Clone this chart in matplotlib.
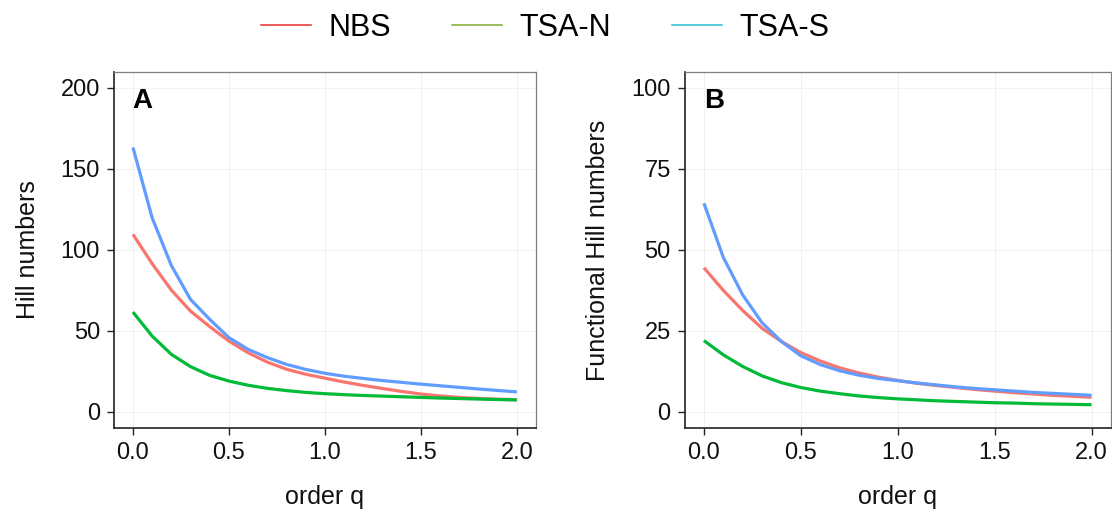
import matplotlib
matplotlib.use("Agg")
import matplotlib.pyplot as plt
from matplotlib.lines import Line2D

plt.rcParams['font.family'] = ['Liberation Sans', 'DejaVu Sans']

q = [0.0, 0.1, 0.2, 0.3, 0.4, 0.5, 0.6, 0.7, 0.8, 0.9, 1.0,
     1.1, 1.2, 1.3, 1.4, 1.5, 1.6, 1.7, 1.8, 1.9, 2.0]

series = ["NBS", "TSA-N", "TSA-S"]

# Panel A: Hill numbers
hill_nbs = [109.6, 91.5, 75.2, 62.2, 52.6, 43.7, 36.5, 30.7, 26.3, 23.2, 20.8,
            18.4, 16.3, 14.4, 12.6, 11.0, 9.8, 8.9, 8.2, 7.8, 7.5]
hill_tsan = [61.6, 46.8, 35.5, 27.9, 22.5, 19.0, 16.4, 14.5, 13.1, 12.0, 11.2,
             10.6, 10.1, 9.7, 9.3, 8.9, 8.5, 8.2, 7.9, 7.6, 7.3]
hill_tsas = [163.3, 119.8, 90.4, 69.4, 57.1, 45.8, 38.6, 33.5, 29.3, 26.2, 23.8,
             22.0, 20.6, 19.3, 18.2, 17.1, 16.1, 15.1, 14.1, 13.2, 12.3]

# Panel B: Functional Hill numbers
fhill_nbs = [44.5, 37.5, 31.3, 25.8, 21.7, 18.3, 15.7, 13.6, 12.0, 10.7, 9.7,
             8.8, 8.1, 7.5, 6.9, 6.4, 5.9, 5.5, 5.1, 4.8, 4.5]
fhill_tsan = [22.0, 17.6, 14.0, 11.1, 9.0, 7.5, 6.4, 5.6, 4.9, 4.4, 4.0,
              3.7, 3.4, 3.2, 3.0, 2.8, 2.7, 2.5, 2.4, 2.3, 2.2]
fhill_tsas = [64.4, 47.7, 36.1, 27.5, 21.7, 17.3, 14.6, 12.7, 11.3, 10.3, 9.6,
              8.9, 8.3, 7.7, 7.2, 6.8, 6.4, 6.0, 5.7, 5.4, 5.1]

x_ticks = [0.0, 0.5, 1.0, 1.5, 2.0]
x_ticklabels = ["0.0", "0.5", "1.0", "1.5", "2.0"]
yticks_a = [0, 50, 100, 150, 200]
yticks_b = [0, 25, 50, 75, 100]

line_colors = {"NBS": "#F8766D", "TSA-N": "#00BA38", "TSA-S": "#619CFF"}
legend_colors = {"NBS": "#E8403F", "TSA-N": "#8AB33F", "TSA-S": "#3EC3D3"}

fig = plt.figure(figsize=(11.12, 5.14), dpi=100)
axA = fig.add_axes([0.1023, 0.1673, 0.3797, 0.6930])
axB = fig.add_axes([0.6156, 0.1673, 0.3834, 0.6930])

panels = [
    (axA, [hill_nbs, hill_tsan, hill_tsas], yticks_a, "Hill numbers", "A"),
    (axB, [fhill_nbs, fhill_tsan, fhill_tsas], yticks_b, "Functional Hill numbers", "B"),
]

for ax, data, yt, ylab, tag in panels:
    for name, vals in zip(series, data):
        ax.plot(q, vals, color=line_colors[name], lw=2.3, solid_capstyle='butt', zorder=3)
    ymax = yt[-1]
    ax.set_xlim(-0.1, 2.1)
    ax.set_ylim(-0.05 * ymax, 1.05 * ymax)
    ax.set_xticks(x_ticks)
    ax.set_xticklabels(x_ticklabels)
    ax.set_yticks(yt)
    ax.grid(True, color="#EFEFEF", lw=0.6, zorder=0)
    ax.set_axisbelow(True)
    for s in ["top", "right"]:
        ax.spines[s].set_color("#7F7F7F")
        ax.spines[s].set_linewidth(0.9)
    for s in ["left", "bottom"]:
        ax.spines[s].set_color("#222222")
        ax.spines[s].set_linewidth(1.2)
    ax.tick_params(axis='both', direction='out', length=5, width=1.0,
                   color="#222222", labelsize=17, labelcolor="#111111", pad=5)
    ax.set_xlabel("order q", fontsize=18, labelpad=15, color="#111111")
    ax.set_ylabel(ylab, fontsize=18, labelpad=15, color="#111111")
    ax.text(0.045, 0.955, tag, transform=ax.transAxes, fontsize=20,
            fontweight='bold', va='top', ha='left', color="black")

handles = [Line2D([], [], color=legend_colors[n], lw=1.2) for n in series]
fig.legend(handles, series, loc='center', bbox_to_anchor=(0.49, 0.946), ncol=3,
           frameon=False, fontsize=22, handlelength=1.65, handletextpad=0.55,
           columnspacing=2.0)

fig.savefig("out.png", dpi=100, facecolor="white")
